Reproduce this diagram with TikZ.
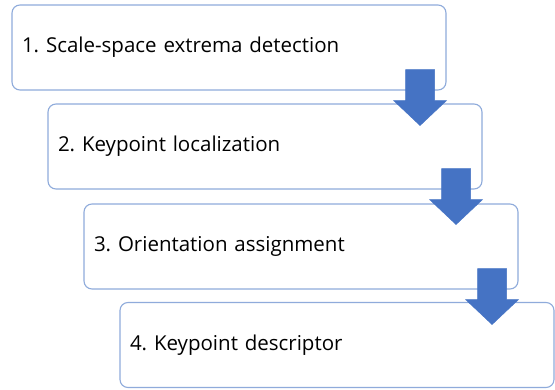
\documentclass[tikz,border=0pt]{standalone}
\usepackage{fontspec}
\setmainfont{Open Sans}
\frenchspacing
\usetikzlibrary{calc}
\definecolor{boxline}{rgb}{0.56,0.67,0.86}
\definecolor{arrfill}{rgb}{0.27,0.45,0.77}

\tikzset{
	stagebox/.style={draw=boxline,line width=1.1pt,fill=white,rounded corners=8pt,
		minimum width=434pt,minimum height=85pt,text width=414pt,inner sep=10pt,
		align=left,font=\fontsize{20.5}{25}\selectfont},
	downarrow/.style={fill=arrfill,draw=arrfill,line width=0.4pt,line join=miter}
}
\newcommand{\stagearrow}[1]{%
	\filldraw[downarrow] ($(#1.south east)+(-41,-21)$) -- ($(#1.south east)+(-12,-21)$)
		-- ($(#1.south east)+(-12,10)$) -- ($(#1.south east)+(0,10)$)
		-- ($(#1.south east)+(-26.5,35)$) -- ($(#1.south east)+(-53,10)$)
		-- ($(#1.south east)+(-41,10)$) -- cycle;}

\begin{document}
\begin{tikzpicture}[line cap=round,line join=round,x=1pt,y=-1pt]
	\useasboundingbox (0,0) rectangle (555,389);
	\node[stagebox] (s1) at (229,47.5) {1. Scale-space extrema detection};
	\node[stagebox] (s2) at (265,146.5) {2. Keypoint localization};
	\node[stagebox] (s3) at (301,246.5) {3. Orientation assignment};
	\node[stagebox] (s4) at (337,345) {4. Keypoint descriptor};
	\stagearrow{s1}
	\stagearrow{s2}
	\stagearrow{s3}
\end{tikzpicture}
\end{document}
